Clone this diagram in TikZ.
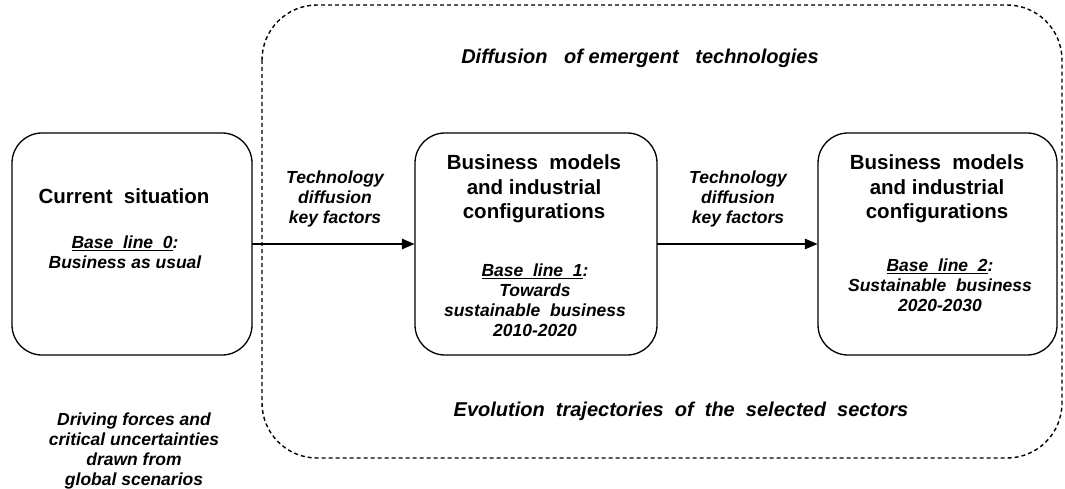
\documentclass[tikz,border=0pt]{standalone}
\usepackage{fontspec}
\setmainfont{Liberation Sans}
\usetikzlibrary{arrows.meta}
\tikzset{
  stage/.style={draw=black, line width=1.3pt, rounded corners=30pt},
  zone/.style={draw=black, line width=1.4pt, dash pattern=on 4pt off 3pt, rounded corners=55pt},
  flow/.style={line width=2.8pt, -{Triangle[length=13pt,width=10pt]}},
  title/.style={font=\fontsize{20.5}{24.5}\selectfont\bfseries, align=center, inner sep=0pt},
  sub/.style={font=\fontsize{17.5}{20}\selectfont\bfseries\itshape, align=center, inner sep=0pt},
  lab/.style={font=\fontsize{17.5}{20}\selectfont\bfseries\itshape, align=center, inner sep=0pt},
  band/.style={font=\fontsize{20}{22}\selectfont\bfseries\itshape, inner sep=0pt}
}
\begin{document}
\begin{tikzpicture}[x=1pt,y=-1pt]
\useasboundingbox (0,0) rectangle (1065,489);
% dashed zone
\draw[zone] (262,5) rectangle (1062,458);
% stage boxes
\draw[stage] (12,133) rectangle (252,355);
\draw[stage] (415,133) rectangle (657,355);
\draw[stage] (818,133) rectangle (1057,355);
\node[inner sep=0pt, minimum width=240pt, minimum height=222pt] (b0) at (132,244) {};
\node[inner sep=0pt, minimum width=242pt, minimum height=222pt] (b1) at (536,244) {};
\node[inner sep=0pt, minimum width=239pt, minimum height=222pt] (b2) at (937.5,244) {};
% arrows
\draw[flow] (b0.east) -- (b1.west);
\draw[flow] (b1.east) -- (b2.west);
% texts
\node[title] (t0) at (124,196) {Current\ \ situation};
\node[sub] (s0) at (125,252) {\underline{Base\ \ line\ \ 0}:\\Business as usual};
\node[title] (t1) at (534,189) {Business\ \ models\\and industrial\\configurations};
\node[sub] (s1) at (535,300) {\underline{Base\ \ line\ \ 1}:\\Towards\\sustainable\ \ business\\2010-2020};
\node[title] (t2) at (937,189) {Business\ \ models\\and industrial\\configurations};
\node[sub] (s2) at (940,285) {\underline{Base\ \ line\ \ 2}:\\Sustainable\ \ business\\2020-2030};
\node[lab] (k1) at (335,199) {Technology\\diffusion\\key factors};
\node[lab] (k2) at (738,199) {Technology\\diffusion\\key factors};
\node[band] (d1) at (640,58) {Diffusion\ \ \ of emergent\ \ \ technologies};
\node[band] (d2) at (681,411) {Evolution\ \ trajectories\ \ of\ \ the\ \ selected\ \ sectors};
\node[lab] (df) at (134,451) {Driving forces and\\critical uncertainties\\drawn from\\global scenarios};
\end{tikzpicture}
\end{document}
